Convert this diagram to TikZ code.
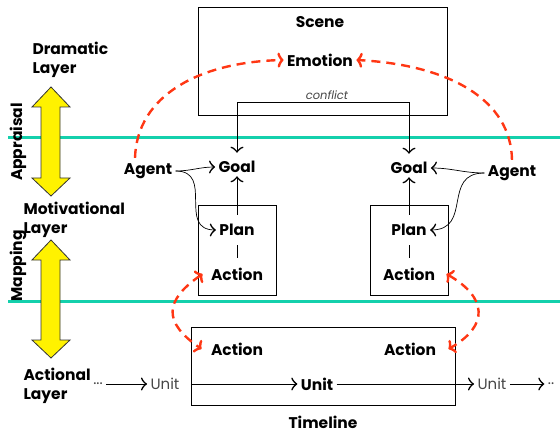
\documentclass[tikz,border=0pt]{standalone}
\usepackage{fontspec}
\setmainfont{Poppins}
\usetikzlibrary{arrows.meta}
\definecolor{layerline}{RGB}{20,208,172}
\definecolor{flowred}{RGB}{255,55,20}
\definecolor{unitgray}{RGB}{70,70,70}
\tikzset{
  lbl/.style={font=\bfseries\fontsize{15.5}{17}\selectfont},
  layer/.style={font=\bfseries\fontsize{15.5}{19}\selectfont, align=left},
  unit/.style={font=\fontsize{15}{17}\selectfont, text=unitgray},
  arr/.style={-{Classical TikZ Rightarrow[length=6pt,width=13pt,line width=1.3pt]}, line width=1pt},
  flow/.style={flowred, line width=2.4pt, dash pattern=on 9pt off 6pt,
    -{Classical TikZ Rightarrow[length=6pt,width=15pt,line width=2.4pt]}},
  flows/.style={flowred, line width=2.4pt, dash pattern=on 9pt off 6pt,
    {Classical TikZ Rightarrow[length=6pt,width=15pt,line width=2.4pt]}-{Classical TikZ Rightarrow[length=6pt,width=15pt,line width=2.4pt]}}
}
\begin{document}
\begin{tikzpicture}[x=1pt, y=-1pt]
\useasboundingbox (0,0) rectangle (560,433);
\draw [layerline, line width=3pt] (8,138) -- (560,138);
\draw [layerline, line width=3pt] (8,301) -- (560,301);
\foreach \t/\b in {87/196, 240/358}
  \filldraw [fill=yellow, draw=black!80, line width=0.8pt]
    (51,\t) -- (70,\t+20) -- (60,\t+20) -- (60,\b-18) -- (70,\b-18) -- (51,\b)
    -- (32,\b-18) -- (41,\b-18) -- (41,\t+20) -- (32,\t+20) -- cycle;
\node at (18,142) [lbl, rotate=90] (appr) {Appraisal};
\node at (18,266) [lbl, rotate=90] (mapp) {Mapping};
\node at (29,60) [layer, anchor=west] (dram) {Dramatic\\Layer};
\node at (20,220) [layer, anchor=west] (moti) {Motivational\\Layer};
\node at (20,386) [layer, anchor=west] (acti) {Actional\\Layer};

\node at (322.5,61) [draw, minimum width=249, minimum height=108] (scenebox) {};
\node at (320,22) [lbl] (scene) {Scene};
\node at (320,60) [lbl] (emo) {Emotion};
\node at (327,95) [unit, font=\itshape\fontsize{11.5}{13}\selectfont] (conf) {conflict};
\coordinate (c1) at (237,103);
\coordinate (c2) at (409,103);

\node at (237,167) [lbl] (goal1) {Goal};
\node at (409,168) [lbl] (goal2) {Goal};
\node at (148,171) [lbl] (agent1) {Agent};
\node at (512,173) [lbl] (agent2) {Agent};

\node at (237,250) [draw, minimum width=78, minimum height=90] (pbox1) {};
\node at (409,250) [draw, minimum width=78, minimum height=90] (pbox2) {};
\node at (237,230) [lbl] (plan1) {Plan};
\node at (237,274) [lbl] (act1) {Action};
\node at (409,230) [lbl] (plan2) {Plan};
\node at (409,274) [lbl] (act2) {Action};

\node at (323,366) [draw, minimum width=264, minimum height=78] (tbox) {};
\node at (237,349) [lbl] (act3) {Action};
\node at (410,349) [lbl] (act4) {Action};
\node at (317,384) [lbl] (unit1) {Unit};
\node at (165,384) [unit] (unit0) {Unit};
\node at (492,384) [unit] (unit2) {Unit};
\node at (98,384) [unit] (dots1) {...};
\node at (551,384) [unit] (dots2) {..};
\node at (323,422) [lbl] (tline) {Timeline};

\draw [arr] (c2) -| ([yshift=5]goal1.north);
\draw [arr] (c1) -| ([yshift=5]goal2.north);
\draw [arr] ([yshift=6]plan1.north) -- (goal1);
\draw [arr] ([yshift=6]plan2.north) -- (goal2);
\draw [shorten <=6pt, shorten >=6pt, line width=1pt] (plan1) -- (act1);
\draw [shorten <=6pt, shorten >=6pt, line width=1pt] (plan2) -- (act2);
\draw [arr, line width=0.7pt] (agent1.east) to [out=0, in=180] (goal1.west);
\draw [arr, line width=0.7pt] (agent1.east) to [out=0, in=180, looseness=1.4] (plan1.west);
\draw [arr, line width=0.7pt] (agent2.west) to [out=180, in=0] (goal2.east);
\draw [arr, line width=0.7pt] (agent2.west) to [out=180, in=0, looseness=1.4] (plan2.east);

\draw [arr] (dots1) -- (unit0);
\draw [arr] (tbox.west |- unit1) -- (unit1);
\draw [arr] (unit1) -- (unit2);
\draw [arr] (unit2) -- (dots2);

\draw [flow] ([xshift=-13,yshift=2]agent1.north) .. controls (137,95) and (200,62) .. (emo.west);
\draw [flow] ([yshift=2]agent2.north) .. controls (511,100) and (450,65) .. (emo.east);
\draw [flows] ([xshift=-5]act1.west) to [out=215, in=145, looseness=1.6] ([xshift=-6]act3.west);
\draw [flows] ([xshift=8]act2.east) to [out=-30, in=30, looseness=1.6] ([xshift=9]act4.east);
\end{tikzpicture}
\end{document}
